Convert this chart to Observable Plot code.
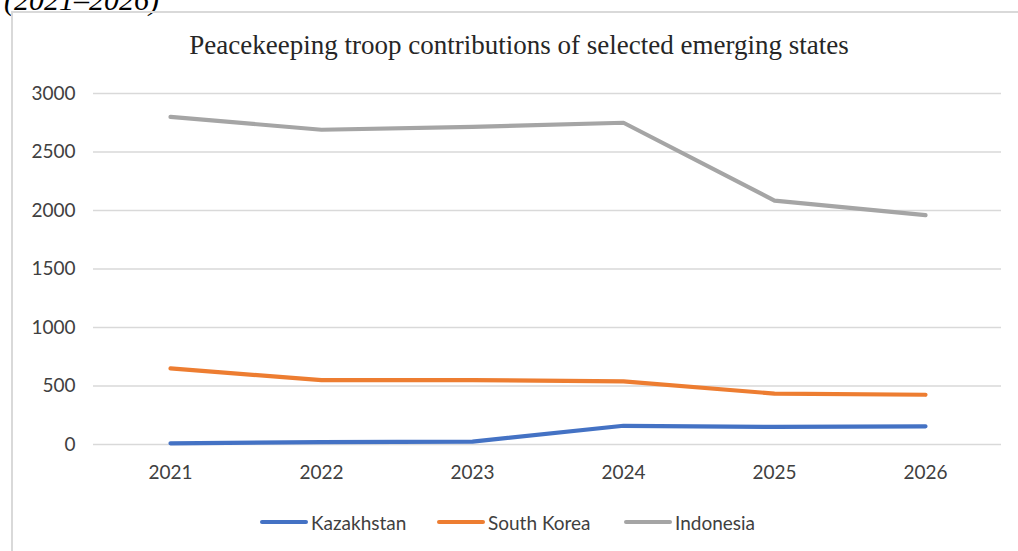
<!DOCTYPE html>
<html>
<head>
<meta charset="utf-8">
<script src="https://cdn.jsdelivr.net/npm/d3@7"></script>
<script src="https://cdn.jsdelivr.net/npm/@observablehq/plot@0.6"></script>
<style>
  html, body { margin: 0; padding: 0; background: #fff; overflow: hidden; }
  #wrap { position: relative; width: 1018px; height: 551px; overflow: hidden; }
  #frame { position: absolute; left: 11px; top: 11px; width: 1100px; height: 600px;
           border-left: 2px solid #d9d9d9; border-top: 2px solid #d9d9d9; box-sizing: border-box; }
  #cut { position: absolute; left: 4px; top: -17px; font-family: "Liberation Serif", serif;
         font-style: italic; font-size: 30px; color: #000; white-space: nowrap; }
  #title { position: absolute; left: 0; width: 1038px; top: 30px; text-align: center;
           font-family: "Liberation Serif", serif; font-size: 27px; color: #262626; }
  #chart { position: absolute; left: 0; top: 0; }
  #legend { position: absolute; left: 0; top: 510px; width: 1018px; height: 24px;
            font-family: Lato, sans-serif; font-size: 19px; color: #404040; }
  .item { position: absolute; top: 0; display: flex; align-items: center; height: 24px; white-space: nowrap; }
  .sw { display: inline-block; width: 48px; height: 4px; border-radius: 2px; margin-right: 3px; }
</style>
</head>
<body>
<div id="wrap">
  <div id="cut">(2021–2026)</div>
  <div id="frame"></div>
  <div id="title">Peacekeeping troop contributions of selected emerging states</div>
  <div id="chart"></div>
  <div id="legend"></div>
</div>
<script>
const years = ["2021", "2022", "2023", "2024", "2025", "2026"];
const seriesNames = ["Kazakhstan", "South Korea", "Indonesia"];
const kazakhstan = [10, 20, 25, 160, 150, 155];
const southKorea = [650, 550, 550, 540, 435, 425];
const indonesia = [2800, 2690, 2715, 2750, 2085, 1960];
const colors = ["#4472C4", "#ED7D31", "#A5A5A5"];
const yTicks = [0, 500, 1000, 1500, 2000, 2500, 3000];

const values = [kazakhstan, southKorea, indonesia];
const data = [];
seriesNames.forEach((s, i) => years.forEach((y, j) => data.push({series: s, year: y, value: values[i][j]})));

const chart = Plot.plot({
  width: 1018,
  height: 500,
  marginLeft: 93,
  marginRight: 17,
  marginTop: 93,
  marginBottom: 56,
  style: { fontFamily: "Lato, sans-serif", fontSize: "19px", color: "#595959", background: "transparent" },
  x: { type: "point", domain: years, padding: 0.5, label: null },
  y: { domain: [0, 3000], label: null },
  color: { domain: seriesNames, range: colors },
  marks: [
    Plot.gridY(yTicks, { stroke: "#d9d9d9", strokeOpacity: 1, strokeWidth: 1.3 }),
    Plot.axisY(yTicks, { tickSize: 0, tickPadding: 18, label: null, fill: "#404040", tickFormat: d => String(d) }),
    Plot.axisX({ tickSize: 0, tickPadding: 21, label: null, fill: "#404040" }),
    Plot.line(data, { x: "year", y: "value", z: "series", stroke: "series",
                      strokeWidth: 4.2, strokeLinecap: "round", strokeLinejoin: "round" })
  ]
});
document.getElementById("chart").appendChild(chart);

const legendPos = [260, 437, 624];
const legend = document.getElementById("legend");
seriesNames.forEach((s, i) => {
  const item = document.createElement("div");
  item.className = "item";
  item.style.left = legendPos[i] + "px";
  const sw = document.createElement("span");
  sw.className = "sw";
  sw.style.background = colors[i];
  item.appendChild(sw);
  item.appendChild(document.createTextNode(s));
  legend.appendChild(item);
});
</script>
</body>
</html>
